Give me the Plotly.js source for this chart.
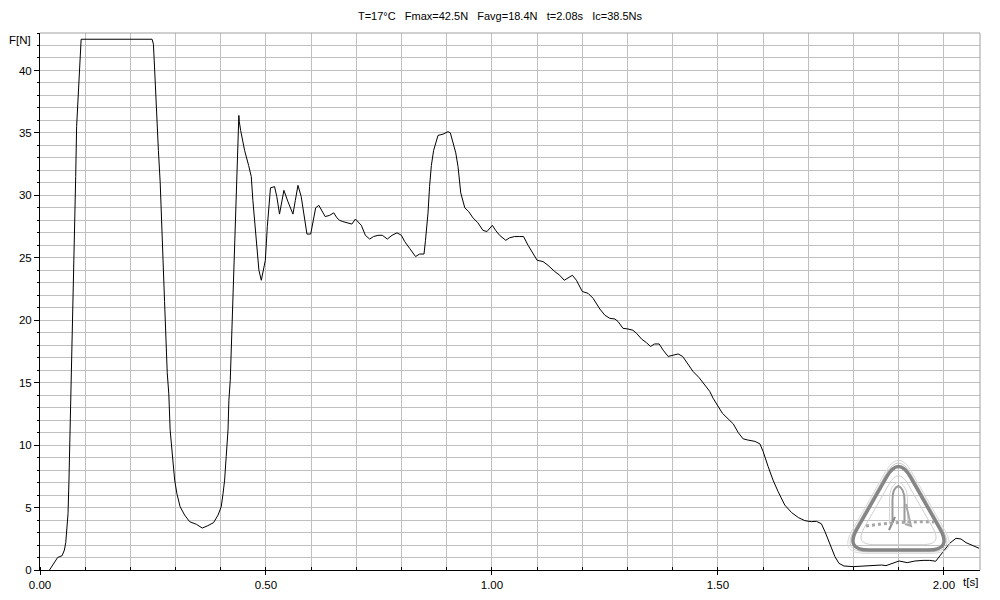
<!DOCTYPE html>
<html>
<head>
<meta charset="utf-8">
<script src="https://cdn.plot.ly/plotly-3.0.1.min.js"></script>
<style>
  html, body { margin: 0; padding: 0; background: #ffffff; }
  #chart { width: 1000px; height: 600px; }
</style>
</head>
<body>
<div id="chart"></div>
<script>
// ---- data ----
const time_s = [
  0.021, 0.039, 0.049, 0.054, 0.057, 0.060, 0.062, 0.064, 0.068, 0.070,
  0.073, 0.076, 0.079, 0.081, 0.083, 0.085, 0.087, 0.089, 0.091,
  0.248, 0.251, 0.253, 0.256, 0.259, 0.262, 0.266, 0.270, 0.2756, 0.2815,
  0.285, 0.288, 0.293, 0.298, 0.303, 0.310, 0.320, 0.331, 0.346, 0.359,
  0.3715, 0.384, 0.394, 0.401, 0.405, 0.4085, 0.412, 0.416, 0.418, 0.421,
  0.424, 0.427, 0.429, 0.433, 0.4366, 0.440, 0.441, 0.444, 0.4527, 0.4616,
  0.4675, 0.471, 0.4786, 0.4844, 0.4897, 0.4986, 0.503, 0.5066, 0.510, 0.519,
  0.524, 0.530, 0.5353, 0.5397, 0.5486, 0.5597, 0.565, 0.5708, 0.578, 0.584,
  0.5907, 0.599, 0.604, 0.610, 0.617, 0.624, 0.631, 0.641, 0.650, 0.657,
  0.663, 0.670, 0.681, 0.690, 0.698, 0.7036, 0.711, 0.720, 0.7295, 0.738,
  0.748, 0.7576, 0.7686, 0.779, 0.790, 0.7997, 0.807, 0.818, 0.825, 0.831,
  0.840, 0.8497, 0.853, 0.8586, 0.862, 0.866, 0.871, 0.8807, 0.8918, 0.9028,
  0.908, 0.9139, 0.920, 0.925, 0.931, 0.940, 0.9486, 0.958, 0.969, 0.980,
  0.989, 1.001, 1.008, 1.017, 1.0306, 1.039, 1.050, 1.0616, 1.070, 1.080,
  1.091, 1.100, 1.113, 1.124, 1.139, 1.150, 1.160, 1.1685, 1.178, 1.187,
  1.194, 1.200, 1.213, 1.224, 1.2387, 1.250, 1.261, 1.272, 1.279, 1.290,
  1.301, 1.312, 1.320, 1.331, 1.342, 1.351, 1.360, 1.370, 1.379, 1.390,
  1.401, 1.412, 1.422, 1.432, 1.445, 1.4585, 1.471, 1.482, 1.4895, 1.500,
  1.510, 1.5227, 1.534, 1.545, 1.556, 1.567, 1.582, 1.593, 1.600, 1.611,
  1.622, 1.633, 1.648, 1.663, 1.678, 1.6925, 1.707, 1.718, 1.729, 1.737,
  1.748, 1.759, 1.768, 1.779, 1.800, 1.822, 1.844, 1.8625, 1.872, 1.885,
  1.901, 1.919, 1.936, 1.954, 1.969, 1.982, 1.991, 2.002, 2.013, 2.027,
  2.038, 2.049, 2.064, 2.078
];
const force_N = [
  0.0, 1.0, 1.15, 1.6, 2.2, 3.5, 4.5, 7.0, 13.0, 16.9,
  21.4, 26.4, 31.5, 35.5, 37.0, 38.5, 40.5, 41.8, 42.5,
  42.5, 42.1, 40.6, 38.0, 35.8, 33.6, 31.0, 27.5, 21.5, 15.8,
  14.1, 11.2, 9.07, 7.2, 6.1, 5.07, 4.4, 3.87, 3.66, 3.36,
  3.55, 3.79, 4.4, 5.07, 6.1, 7.2, 9.07, 11.2, 13.6, 15.2,
  18.5, 21.6, 24.0, 28.6, 32.8, 36.4, 35.9, 35.2, 33.6, 32.4,
  31.5, 29.6, 26.2, 24.0, 23.2, 24.8, 27.5, 28.8, 30.6, 30.7,
  29.9, 28.5, 29.6, 30.4, 29.5, 28.5, 29.6, 30.8, 29.9, 28.6,
  26.9, 26.9, 27.8, 29.0, 29.2, 28.7, 28.3, 28.4, 28.6, 28.2,
  28.0, 27.9, 27.8, 27.7, 28.1, 27.9, 27.6, 26.8, 26.5, 26.7,
  26.8, 26.8, 26.5, 26.8, 27.0, 26.8, 26.3, 25.75, 25.35, 25.1,
  25.3, 25.3, 26.4, 28.6, 30.7, 32.4, 33.6, 34.8, 34.9, 35.1,
  35.0, 34.2, 33.4, 32.3, 30.2, 29.0, 28.7, 28.2, 27.8, 27.2,
  27.1, 27.6, 27.2, 26.8, 26.4, 26.6, 26.7, 26.7, 26.7, 26.0,
  25.35, 24.8, 24.7, 24.4, 23.9, 23.6, 23.2, 23.4, 23.6, 23.2,
  22.7, 22.3, 22.15, 21.75, 20.9, 20.4, 20.15, 20.1, 19.9, 19.35,
  19.3, 19.2, 18.95, 18.5, 18.2, 17.9, 18.1, 18.1, 17.6, 17.1,
  17.2, 17.3, 17.1, 16.6, 15.9, 15.4, 14.8, 14.3, 13.75, 13.1,
  12.55, 12.1, 11.7, 11.0, 10.5, 10.4, 10.3, 10.1, 9.5, 8.3,
  7.2, 6.3, 5.2, 4.6, 4.2, 3.95, 3.87, 3.9, 3.7, 3.07,
  2.1, 1.07, 0.53, 0.32, 0.27, 0.32, 0.35, 0.4, 0.35, 0.53,
  0.72, 0.59, 0.72, 0.77, 0.77, 0.7, 1.1, 1.6, 2.14, 2.54,
  2.48, 2.19, 1.95, 1.74
];
const xTickVals = [0, 0.5, 1.0, 1.5, 2.0];
const xTickText = ['0.00', '0.50', '1.00', '1.50', '2.00'];
const yTickVals = [0, 5, 10, 15, 20, 25, 30, 35, 40];
const yTickText = ['0', '5', '10', '15', '20', '25', '30', '35', '40'];
const titleParts = ['T=17°C', 'Fmax=42.5N', 'Favg=18.4N', 't=2.08s', 'Ic=38.5Ns'];
const yAxisLabel = 'F[N]';
const xAxisLabel = 't[s]';

// ---- layout geometry ----
const W = 1000, H = 600;
const M = { l: 40, r: 20, t: 33, b: 30 };
const plotW = W - M.l - M.r, plotH = H - M.t - M.b;
const FONT = 'Liberation Sans, Arial, sans-serif';
const GRID = '#c0c0c0';

// pixel -> paper coordinates (for the decorative watermark)
function P(px, py) {
  return ((px - M.l) / plotW).toFixed(5) + ',' + ((H - M.b - py) / plotH).toFixed(5);
}
function roundTri(pts, r) {
  let d = '';
  for (let i = 0; i < 3; i++) {
    const c = pts[i], pv = pts[(i + 2) % 3], nx = pts[(i + 1) % 3];
    const d1 = Math.hypot(pv[0] - c[0], pv[1] - c[1]);
    const d2 = Math.hypot(nx[0] - c[0], nx[1] - c[1]);
    const a = [c[0] + (pv[0] - c[0]) * r / d1, c[1] + (pv[1] - c[1]) * r / d1];
    const b = [c[0] + (nx[0] - c[0]) * r / d2, c[1] + (nx[1] - c[1]) * r / d2];
    d += (i === 0 ? 'M ' : ' L ') + P(a[0], a[1]) + ' Q ' + P(c[0], c[1]) + ' ' + P(b[0], b[1]);
  }
  return d + ' Z';
}
function triScaled(s) {
  const cx = 898.5, cy = 520;
  const base = [[898.5, 456], [845, 550], [952, 550]];
  return base.map(p => [cx + (p[0] - cx) * s, cy + (p[1] - cy) * s]);
}
function pathShape(path, color, width, dash) {
  return { type: 'path', xref: 'paper', yref: 'paper', path: path,
           line: { color: color, width: width, dash: dash || 'solid' }, layer: 'above' };
}

const shapes = [
  // top and right frame lines (grey)
  { type: 'line', xref: 'paper', yref: 'paper', x0: 0, x1: 1, y0: 1, y1: 1,
    line: { color: '#a0a0a0', width: 1 }, layer: 'above' },
  { type: 'line', xref: 'paper', yref: 'paper', x0: 1, x1: 1, y0: 0, y1: 1,
    line: { color: '#a0a0a0', width: 1 }, layer: 'above' },
  // watermark
  pathShape(roundTri(triScaled(1.11), 26), '#d8d8d8', 1),
  pathShape(roundTri(triScaled(1.06), 25), '#c8c8c8', 1),
  pathShape(roundTri(triScaled(1.0), 24), '#858585', 3.5),
  pathShape(roundTri(triScaled(0.82), 19), '#cfcfcf', 1),
  pathShape('M ' + P(892.5, 523) + ' L ' + P(892.5, 500) + ' C ' + P(892.5, 492) + ' ' + P(895, 487) + ' ' + P(898.3, 486) +
            ' C ' + P(901.6, 487) + ' ' + P(904.5, 492) + ' ' + P(904.5, 500) + ' L ' + P(904.5, 523), '#9a9a9a', 2),
  pathShape('M ' + P(889.5, 524) + ' L ' + P(889.5, 499) + ' C ' + P(889.5, 489) + ' ' + P(894, 483) + ' ' + P(898.3, 482) +
            ' C ' + P(902.6, 483) + ' ' + P(907.5, 489) + ' ' + P(907.5, 499) + ' L ' + P(907.5, 524), '#d4d4d4', 1),
  pathShape('M ' + P(906, 504) + ' L ' + P(911, 526) + ' L ' + P(905, 524), '#a8a8a8', 2),
  pathShape('M ' + P(895, 517) + ' L ' + P(889, 530), '#8c8c8c', 2),
  pathShape('M ' + P(866, 526) + ' Q ' + P(900, 521) + ' ' + P(934, 522), '#a8a8a8', 3, 'dot')
];

const trace = {
  type: 'scatter', mode: 'lines',
  x: time_s, y: force_N,
  line: { color: '#000000', width: 1, shape: 'linear' },
  hoverinfo: 'skip', showlegend: false
};

const layout = {
  width: W, height: H,
  margin: M,
  paper_bgcolor: '#ffffff', plot_bgcolor: '#ffffff',
  font: { family: FONT, size: 11.5, color: '#000000' },
  showlegend: false,
  title: {
    text: titleParts.join('\u00a0\u00a0\u00a0'),
    x: 0.5, xref: 'container', xanchor: 'center',
    y: 1 - 16 / H, yref: 'container', yanchor: 'middle',
    font: { family: FONT, size: 11, color: '#000000' }
  },
  xaxis: {
    range: [0, 2.08], fixedrange: true,
    tickmode: 'array', tickvals: xTickVals, ticktext: xTickText,
    ticks: 'outside', ticklen: 4, tickcolor: '#000000', tickwidth: 1,
    showgrid: true, gridcolor: GRID, gridwidth: 1,
    zeroline: false, showline: true, linecolor: '#000000', linewidth: 1,
    minor: { tickmode: 'linear', tick0: 0, dtick: 0.1, ticks: 'inside', ticklen: 3,
             tickcolor: '#000000', showgrid: true, gridcolor: GRID, gridwidth: 1 },
    tickfont: { family: FONT, size: 11.5, color: '#000000' }
  },
  yaxis: {
    range: [0, 43], fixedrange: true,
    tickmode: 'array', tickvals: yTickVals, ticktext: yTickText,
    ticks: 'outside', ticklen: 5, tickcolor: '#000000', tickwidth: 1,
    showgrid: true, gridcolor: GRID, gridwidth: 1,
    zeroline: false, showline: true, linecolor: '#000000', linewidth: 1,
    minor: { tickmode: 'linear', tick0: 0, dtick: 1, ticks: 'outside', ticklen: 2,
             tickcolor: '#000000', showgrid: true, gridcolor: GRID, gridwidth: 1 },
    tickfont: { family: FONT, size: 11.5, color: '#000000' }
  },
  shapes: shapes,
  annotations: [
    { text: yAxisLabel, xref: 'paper', yref: 'paper',
      x: (33 - M.l) / plotW, xanchor: 'right',
      y: (H - M.b - 40) / plotH, yanchor: 'middle',
      showarrow: false, font: { family: FONT, size: 11.5, color: '#000000' } },
    { text: xAxisLabel, xref: 'paper', yref: 'paper',
      x: (961 - M.l) / plotW, xanchor: 'left',
      y: (H - M.b - 581.5) / plotH, yanchor: 'middle',
      showarrow: false, font: { family: FONT, size: 11.5, color: '#000000' } }
  ]
};

Plotly.newPlot('chart', [trace], layout, { staticPlot: true, displayModeBar: false });
</script>
</body>
</html>
